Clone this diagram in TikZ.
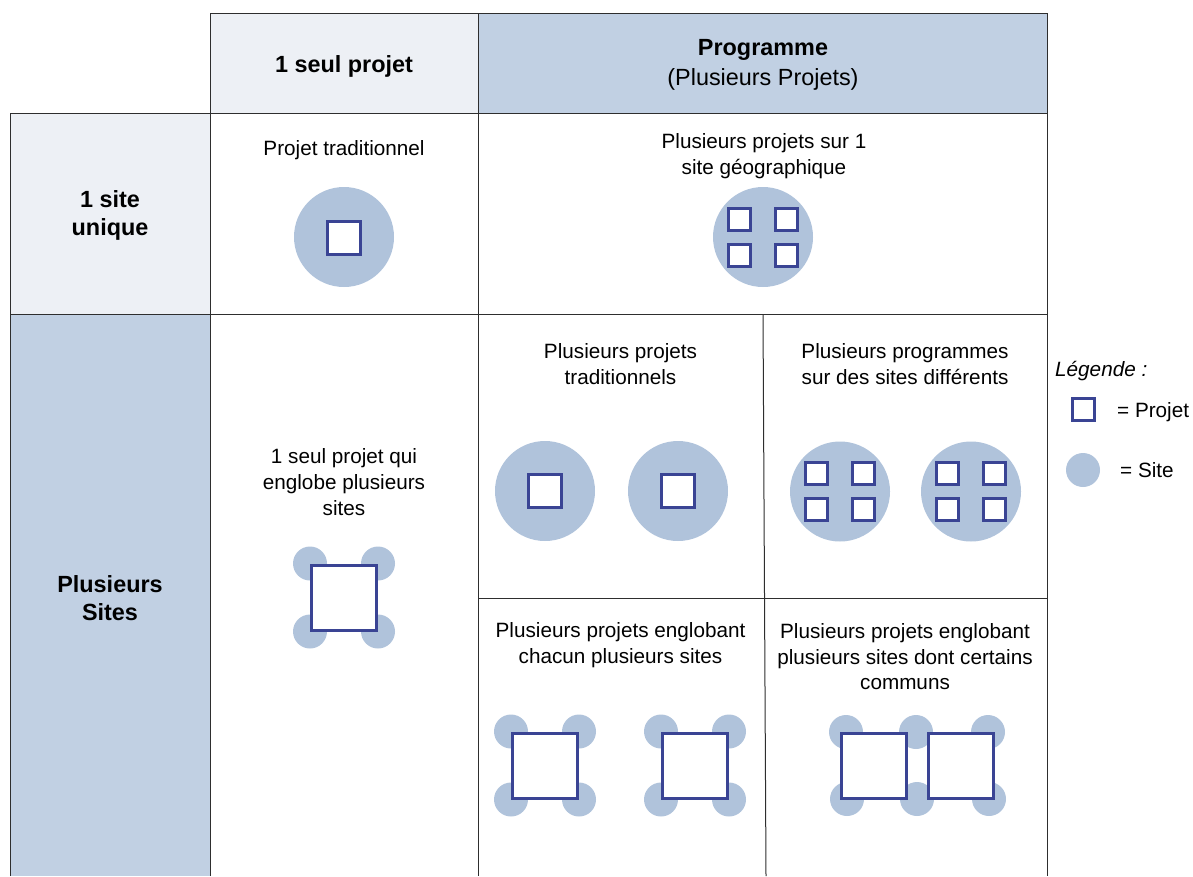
\documentclass[tikz,border=0pt]{standalone}
\usepackage{fontspec}
\setmainfont{Liberation Sans}
\definecolor{hdrlight}{HTML}{EDF0F5}
\definecolor{hdrblue}{HTML}{C1D0E3}
\definecolor{sitefill}{HTML}{B0C3DB}
\definecolor{projdraw}{HTML}{3A4494}
\definecolor{gridline}{HTML}{2E2E2E}
\begin{document}
\begin{tikzpicture}[x=1pt,y=-1pt,
  grid/.style={draw=gridline,line width=1pt},
  site/.style={circle,fill=sitefill,inner sep=0pt,minimum size=#1},
  proj/.style={rectangle,draw=projdraw,fill=white,line width=3pt,inner sep=0pt,minimum size=#1},
  lbl/.style={anchor=base,inner sep=0pt,font=\fontsize{20.7}{25}\selectfont},
  hdr/.style={anchor=base,inner sep=0pt,font=\fontsize{23.4}{28}\selectfont\bfseries},
  hdrn/.style={anchor=base,inner sep=0pt,font=\fontsize{23.4}{28}\selectfont}]
\useasboundingbox (0,0) rectangle (1193,876);
% backgrounds
\fill[hdrlight] (210,13) rectangle (478,113);
\fill[hdrblue] (478,13) rectangle (1047,113);
\fill[hdrlight] (10,113) rectangle (210,314);
\fill[hdrblue] (10,314) rectangle (210,876);
% grid lines
\draw[grid] (210,876) -- (210,13) -- (1047,13) -- (1047,876);
\draw[grid] (478,13) -- (478,876);
\draw[grid] (10,876) -- (10,113) -- (1047,113);
\draw[grid] (10,314) -- (1047,314);
\draw[grid] (478,598) -- (1047,598);
\draw[grid] (763,314) -- (766,876);
% headers
\node[hdr] (h1) at (344,72) {1 seul projet};
\node[hdr] (h2) at (763,55) {Programme};
\node[hdrn] (h2b) at (763,85) {(Plusieurs Projets)};
\node[hdr] (r1a) at (110,207) {1 site};
\node[hdr] (r1b) at (110,235) {unique};
\node[hdr] (r2a) at (110,592) {Plusieurs};
\node[hdr] (r2b) at (110,620) {Sites};
% cell texts
\node[lbl] (c1) at (344,155) {Projet traditionnel};
\node[lbl] (c2a) at (764,148) {Plusieurs projets sur 1};
\node[lbl] (c2b) at (764,174) {site géographique};
\node[lbl] (c3a) at (344,463) {1 seul projet qui};
\node[lbl] (c3b) at (344,489) {englobe plusieurs};
\node[lbl] (c3c) at (344,515) {sites};
\node[lbl] (c4a) at (620.5,358) {Plusieurs projets};
\node[lbl] (c4b) at (620.5,384) {traditionnels};
\node[lbl] (c5a) at (905,358) {Plusieurs programmes};
\node[lbl] (c5b) at (905,384) {sur des sites différents};
\node[lbl] (c6a) at (620.5,637) {Plusieurs projets englobant};
\node[lbl] (c6b) at (620.5,663) {chacun plusieurs sites};
\node[lbl] (c7a) at (905,638) {Plusieurs projets englobant};
\node[lbl] (c7b) at (905,664) {plusieurs sites dont certains};
\node[lbl] (c7c) at (905,689) {communs};
% 1 site, 1 projet
\node[site=100pt] (s1) at (344,237) {};
\node[proj=33pt] (p1) at (344,237.5) {};
% 1 site, programme
\node[site=100pt] (s2) at (763,237) {};
\foreach \dx/\dy [count=\i] in {-23.5/-18,23.5/-18,-23.5/18,23.5/18}
  \node[proj=22pt] (p2\i) at (763+\dx,237+\dy) {};
% plusieurs projets traditionnels
\node[site=100pt] (s3) at (545,491) {};
\node[proj=33pt] (p3) at (545,491) {};
\node[site=100pt] (s4) at (678,491) {};
\node[proj=33pt] (p4) at (678,491) {};
% plusieurs programmes
\foreach \cx [count=\j] in {840,971}{
  \node[site=100pt] (s5\j) at (\cx,491.5) {};
  \foreach \dx/\dy [count=\i] in {-23.5/-18,23.5/-18,-23.5/18,23.5/18}
    \node[proj=22pt] (p5\j\i) at (\cx+\dx,491.5+\dy) {};
}
% 1 projet plusieurs sites
\foreach \dx/\dy [count=\i] in {-34/-34,34/-34,-34/34,34/34}
  \node[site=34pt] (s6\i) at (344+\dx,597.5+\dy) {};
\node[proj=65pt] (p6) at (344,597.5) {};
% plusieurs projets englobant chacun plusieurs sites
\foreach \cx [count=\j] in {545,695}{
  \foreach \dx/\dy [count=\i] in {-34/-34,34/-34,-34/34,34/34}
    \node[site=34pt] (s7\j\i) at (\cx+\dx,765.5+\dy) {};
  \node[proj=65pt] (p7\j) at (\cx,765.5) {};
}
% sites communs
\foreach \cx [count=\i] in {846,916,988}{
  \node[site=34pt] (s8t\i) at (\cx,732) {};
  \node[site=34pt] (s8b\i) at (\cx+1,799) {};
}
\node[proj=65pt] (p81) at (874,765.5) {};
\node[proj=65pt] (p82) at (960.5,765.5) {};
% legend
\node[anchor=base west,inner sep=0pt,font=\fontsize{20.7}{25}\selectfont\itshape] (leg) at (1055,376) {Légende :};
\node[proj=22pt] (lp) at (1083.5,409.5) {};
\node[anchor=base west,inner sep=0pt,font=\fontsize{20.7}{25}\selectfont] (lpt) at (1117,417) {= Projet};
\node[site=34pt] (ls) at (1083,470) {};
\node[anchor=base west,inner sep=0pt,font=\fontsize{20.7}{25}\selectfont] (lst) at (1120,477) {= Site};
\end{tikzpicture}
\end{document}
